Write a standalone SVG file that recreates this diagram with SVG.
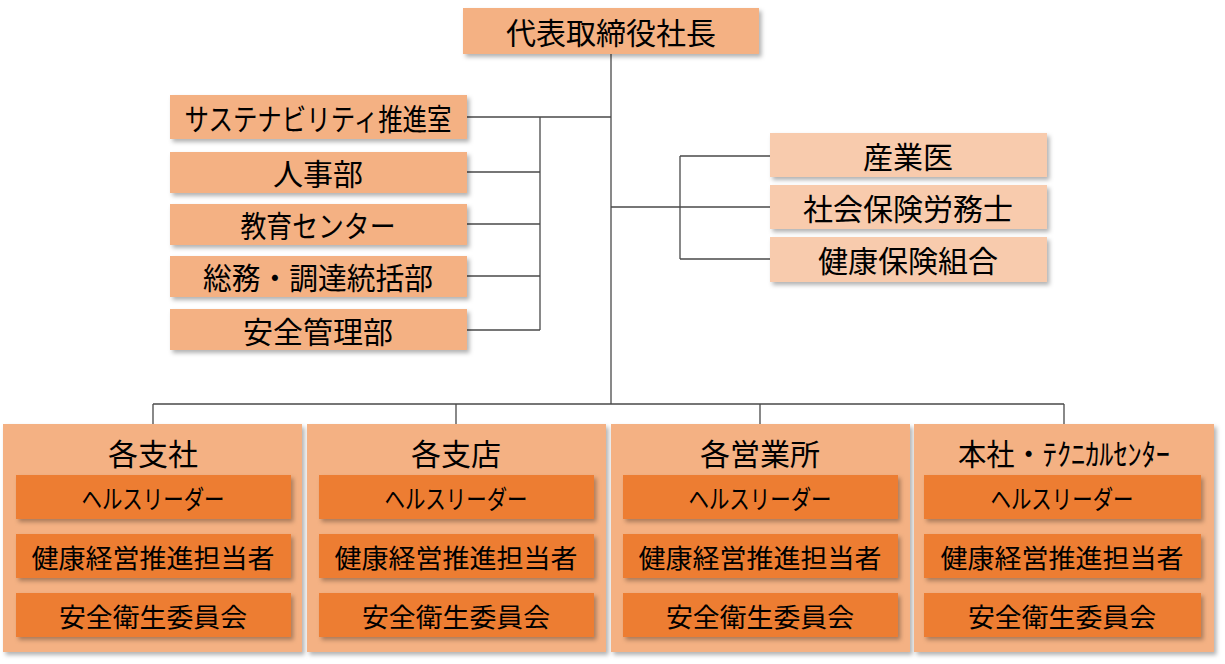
<svg xmlns="http://www.w3.org/2000/svg" width="1225" height="664" viewBox="0 0 1225 664">
<defs>
<filter id="sh" x="-10%" y="-20%" width="130%" height="160%">
<feDropShadow dx="2.5" dy="3" stdDeviation="2" flood-color="#000" flood-opacity="0.3"/>
</filter>
<style>
.t{font-family:"Noto Sans CJK JP","Noto Sans",sans-serif;fill:#000;text-anchor:middle;dominant-baseline:central}
.f28{font-size:30px}
.f26{font-size:26px}
.mid{fill:#F4B183}
.lt{fill:#F8CBAD}
.dk{fill:#ED7D31}
.ct{fill:#F4B183}
.ln{stroke:#4a4a4a;stroke-width:1.3;fill:none}
</style>
</defs>
<rect width="1225" height="664" fill="#fff"/>
<g id="connectors">
<path class="ln" d="M611 54V404"/>
<path class="ln" d="M467 117H611M540 117V330M467 172H540M467 224H540M467 276H540M467 330H540"/>
<path class="ln" d="M611 207H770M680 156V259M680 156H770M680 259H770"/>
<path class="ln" d="M153 404H1064M153 404V424M456 404V424M760 404V424M1064 404V424"/>
<path class="ln" d="M153 519V534M153 578V593M456 519V534M456 578V593M760 519V534M760 578V593M1063 519V534M1063 578V593"/>
</g>
<g id="ceo"><rect class="mid" x="463" y="8" width="296" height="46" filter="url(#sh)"/><text class="t f28" x="611" y="31">代表取締役社長</text></g>
<g id="sustain"><rect class="mid" x="170" y="95" width="297" height="44" filter="url(#sh)"/><text class="t f28" x="318" y="117" textLength="267" lengthAdjust="spacingAndGlyphs">サステナビリティ推進室</text></g>
<g id="hr"><rect class="mid" x="170" y="152" width="297" height="41" filter="url(#sh)"/><text class="t f28" x="318" y="172">人事部</text></g>
<g id="edu"><rect class="mid" x="170" y="204" width="297" height="41" filter="url(#sh)"/><text class="t f28" x="318" y="224" textLength="155" lengthAdjust="spacingAndGlyphs">教育センター</text></g>
<g id="general"><rect class="mid" x="170" y="256" width="297" height="41" filter="url(#sh)"/><text class="t f28" x="318" y="276" textLength="230" lengthAdjust="spacingAndGlyphs">総務・調達統括部</text></g>
<g id="safety"><rect class="mid" x="170" y="309" width="297" height="41" filter="url(#sh)"/><text class="t f28" x="318" y="330">安全管理部</text></g>
<g id="doctor"><rect class="lt" x="770" y="133" width="277" height="44" filter="url(#sh)"/><text class="t f28" x="908" y="155">産業医</text></g>
<g id="sharoushi"><rect class="lt" x="770" y="185" width="277" height="44" filter="url(#sh)"/><text class="t f28" x="908" y="207">社会保険労務士</text></g>
<g id="kenpo"><rect class="lt" x="770" y="237" width="277" height="45" filter="url(#sh)"/><text class="t f28" x="908" y="259">健康保険組合</text></g>
<g id="branch1">
<rect class="ct" x="3" y="424" width="299" height="228" filter="url(#sh)"/>
<text class="t f28" x="153" y="452">各支社</text>
<rect class="dk" x="16" y="475" width="275" height="44" filter="url(#sh)"/><text class="t f26" x="153" y="497" textLength="143" lengthAdjust="spacingAndGlyphs">ヘルスリーダー</text>
<rect class="dk" x="16" y="534" width="275" height="44" filter="url(#sh)"/><text class="t f26" x="153" y="556" textLength="243" lengthAdjust="spacingAndGlyphs">健康経営推進担当者</text>
<rect class="dk" x="16" y="593" width="275" height="44" filter="url(#sh)"/><text class="t f26" x="153" y="615" textLength="188" lengthAdjust="spacingAndGlyphs">安全衛生委員会</text>
</g>
<g id="branch2">
<rect class="ct" x="307" y="424" width="299" height="228" filter="url(#sh)"/>
<text class="t f28" x="456" y="452">各支店</text>
<rect class="dk" x="319" y="475" width="275" height="44" filter="url(#sh)"/><text class="t f26" x="456" y="497" textLength="143" lengthAdjust="spacingAndGlyphs">ヘルスリーダー</text>
<rect class="dk" x="319" y="534" width="275" height="44" filter="url(#sh)"/><text class="t f26" x="456" y="556" textLength="243" lengthAdjust="spacingAndGlyphs">健康経営推進担当者</text>
<rect class="dk" x="319" y="593" width="275" height="44" filter="url(#sh)"/><text class="t f26" x="456" y="615" textLength="188" lengthAdjust="spacingAndGlyphs">安全衛生委員会</text>
</g>
<g id="branch3">
<rect class="ct" x="611" y="424" width="299" height="228" filter="url(#sh)"/>
<text class="t f28" x="760" y="452">各営業所</text>
<rect class="dk" x="623" y="475" width="275" height="44" filter="url(#sh)"/><text class="t f26" x="760" y="497" textLength="143" lengthAdjust="spacingAndGlyphs">ヘルスリーダー</text>
<rect class="dk" x="623" y="534" width="275" height="44" filter="url(#sh)"/><text class="t f26" x="760" y="556" textLength="243" lengthAdjust="spacingAndGlyphs">健康経営推進担当者</text>
<rect class="dk" x="623" y="593" width="275" height="44" filter="url(#sh)"/><text class="t f26" x="760" y="615" textLength="188" lengthAdjust="spacingAndGlyphs">安全衛生委員会</text>
</g>
<g id="branch4">
<rect class="ct" x="914" y="424" width="300" height="228" filter="url(#sh)"/>
<text class="t f28" x="1064" y="452" textLength="212" lengthAdjust="spacingAndGlyphs">本社・ﾃｸﾆｶﾙｾﾝﾀｰ</text>
<rect class="dk" x="924" y="475" width="277" height="44" filter="url(#sh)"/><text class="t f26" x="1062" y="497" textLength="143" lengthAdjust="spacingAndGlyphs">ヘルスリーダー</text>
<rect class="dk" x="924" y="534" width="277" height="44" filter="url(#sh)"/><text class="t f26" x="1062" y="556" textLength="243" lengthAdjust="spacingAndGlyphs">健康経営推進担当者</text>
<rect class="dk" x="924" y="593" width="277" height="44" filter="url(#sh)"/><text class="t f26" x="1062" y="615" textLength="188" lengthAdjust="spacingAndGlyphs">安全衛生委員会</text>
</g>
</svg>
